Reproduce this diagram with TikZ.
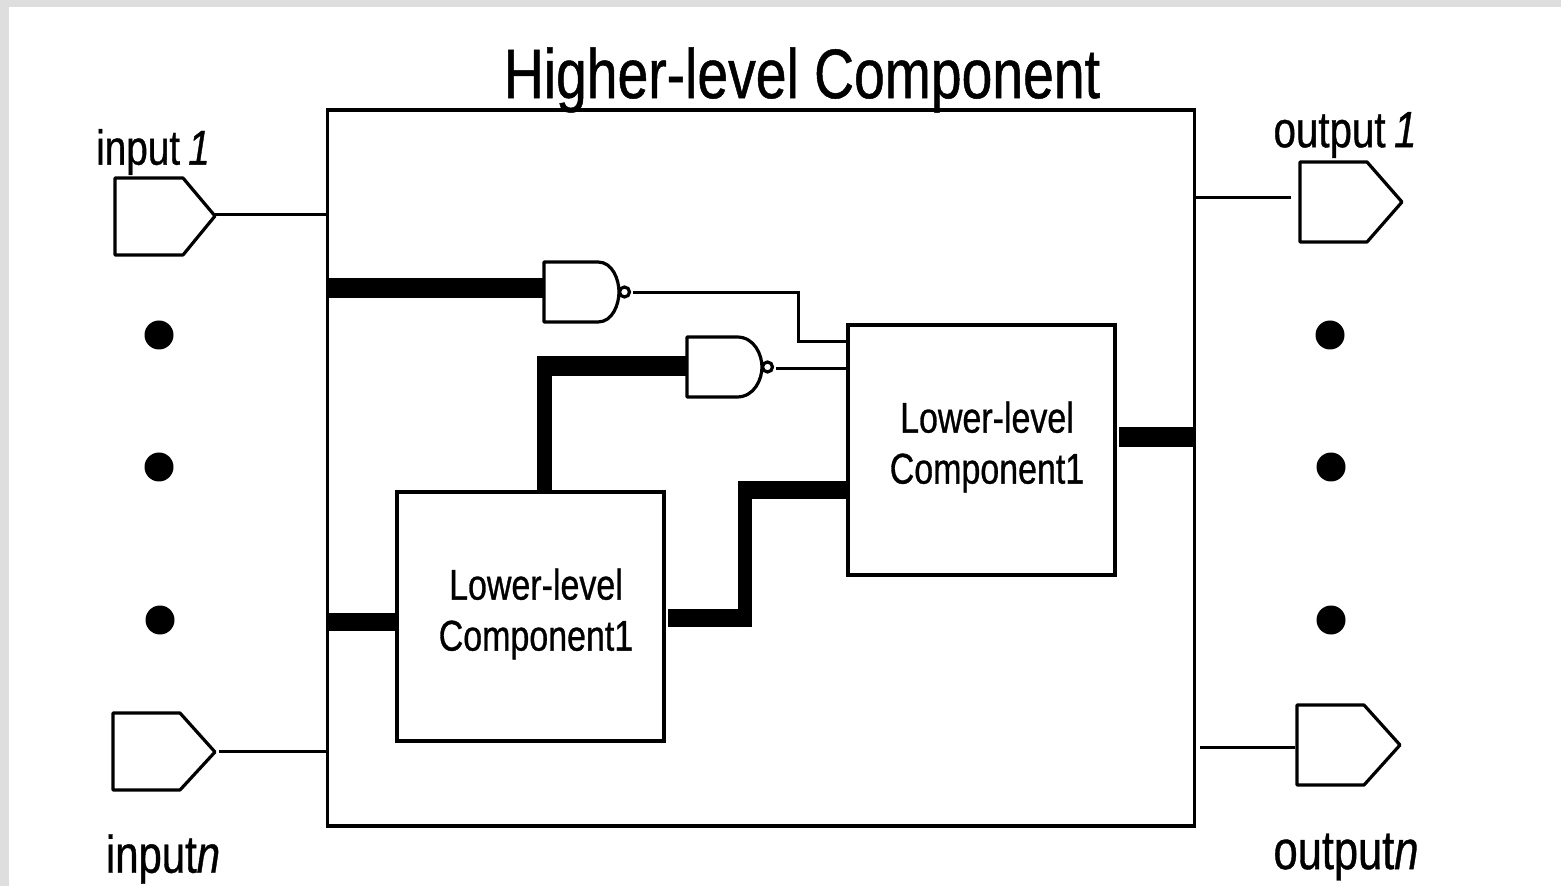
\documentclass[tikz,border=0pt]{standalone}
\usepackage{fontspec}
\setmainfont[FakeStretch=0.79,FakeBold=0.7]{Liberation Sans}
\tikzset{
  x=0.5pt,y=-0.5pt,
  wire/.style={draw=black,line width=1.5pt,line join=miter},
  thick bus/.style={draw=black,line width=#1,line join=miter},
  shape line/.style={draw=black,line width=1.6pt,line join=round},
  boxnode/.style={draw=black,line width=1.6pt,inner sep=0pt,outer sep=0pt},
  boxtext/.style={inner sep=0pt,align=center,font=\fontsize{21.5}{25.5}\selectfont},
  lab/.style={inner sep=0pt,font=\fontsize{24.5}{26}\selectfont},
  dot/.style={circle,fill=black,inner sep=0pt,minimum size=14.5pt}
}
\newcommand{\portshape}[7]{% name, left, top, bottom, shoulder, tip x, tip y
  \draw[shape line] (#2,#3) -- (#5,#3) -- (#6,#7) -- (#5,#4) -- (#2,#4) -- cycle;
  \coordinate (#1) at (#6,#7);}
\newcommand{\gateshape}[6]{% name, left, top, bottom, flat end, nose
  \draw[shape line] (#2,#3) -- (#5,#3) .. controls ({#5+0.7*(#6-#5)},#3) and (#6,{#3+0.3*(#4-#3)}) .. (#6,{0.5*(#3+#4)})
     .. controls (#6,{#3+0.7*(#4-#3)}) and ({#5+0.7*(#6-#5)},#4) .. (#5,#4) -- (#2,#4) -- cycle;
  \draw[black,line width=1.6pt] ({#6+5.5},{0.5*(#3+#4)}) circle[radius=5];
  \coordinate (#1) at ({#6+5.5},{0.5*(#3+#4)});}
\begin{document}
\begin{tikzpicture}
\useasboundingbox (0,0) rectangle (1561,886);
\fill[black!13] (0,0) rectangle (1561,886);
\fill[white] (9,7) rectangle (1561,886);

\node[boxnode,minimum width=433.5pt,minimum height=358pt] (main) at (761,468) {};
\node[boxnode,minimum width=133.5pt,minimum height=124.5pt] (low1) at (530.5,616.5) {};
\node[boxnode,minimum width=133.5pt,minimum height=125pt] (low2) at (981.5,450) {};
\node[boxtext] (low1txt) at (536,614) {Lower-level\\Component1};
\node[boxtext] (low2txt) at (987,447) {Lower-level\\Component1};

\node[inner sep=0pt,font=\fontsize{35}{36}\selectfont] (title) at (802,80) {Higher-level Component};
\node[lab] (in1lab) at (153,152) {input\,\textit{1}};
\node[lab,font=\fontsize{26.5}{28}\selectfont] (innlab) at (163,859) {input\textit{n}};
\node[lab,font=\fontsize{25.5}{27}\selectfont] (out1lab) at (1345,135) {output\,\textit{1}};
\node[lab,font=\fontsize{27.5}{29}\selectfont] (outnlab) at (1346,857) {output\textit{n}};

\portshape{in1}{115}{178}{255}{183}{215}{216}
\portshape{inn}{113}{713}{790}{180}{215}{752}
\portshape{out1}{1300}{162}{242}{1367}{1402}{202}
\portshape{outn}{1297}{705}{785}{1364}{1400}{745}

\gateshape{g1}{544}{262}{322}{598}{619}
\gateshape{g2}{687}{337}{397}{737}{762}

\coordinate (in1w) at (215,215);
\coordinate (innw) at (219,751);
\coordinate (out1w) at (1291,198);
\coordinate (outnw) at (1295,747);
\draw[wire] (in1w) -- (in1w -| main.west);
\draw[wire] (innw) -- (innw -| main.west);
\draw[wire] (out1w) -- (out1w -| main.east);
\draw[wire] (outnw) -- (1200,747);

\coordinate (g1o) at (633,293);
\coordinate (g2o) at (776,369);
\draw[wire] (g1o) -- (798,293) -- (798,342) -- (798,342 -| low2.west);
\draw[wire] (g2o) -- (g2o -| low2.west);

\coordinate (g1i) at (544,288);
\coordinate (g2i) at (687,366);
\draw[thick bus=10pt] (g1i -| main.west) -- (g1i);
\draw[thick bus=10pt] (g2i) -- (537,366);
\draw[thick bus=7.5pt] (544,357) -- (544,492);
\coordinate (l1in) at (397,622);
\draw[thick bus=9pt] (l1in -| main.west) -- (l1in);
\draw[thick bus=9pt] (668,618) -- (750,618);
\draw[thick bus=7pt] (745,627) -- (745,481);
\draw[thick bus=9pt] (738,490) -- (848,490);
\draw[thick bus=10pt] (1119,437) -- (1119,437 -| main.east);

\node[dot] (d1) at (159,335) {};
\node[dot] (d2) at (159,467) {};
\node[dot] (d3) at (160,620) {};
\node[dot] (d4) at (1330,335) {};
\node[dot] (d5) at (1331,467) {};
\node[dot] (d6) at (1331,620) {};
\end{tikzpicture}
\end{document}
